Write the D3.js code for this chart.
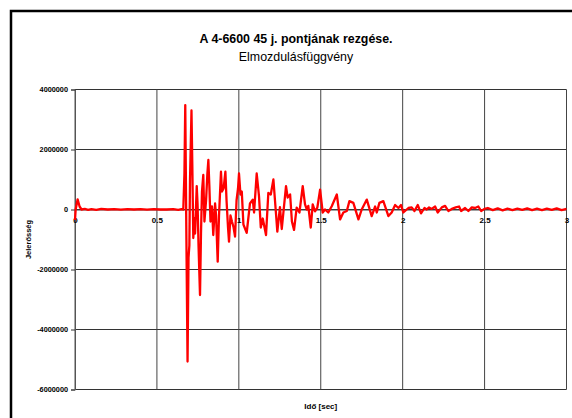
<!DOCTYPE html>
<html>
<head>
<meta charset="utf-8">
<script src="https://cdn.jsdelivr.net/npm/d3@7"></script>
<style>
body { margin: 0; background: #fff; }
svg { display: block; font-family: "Liberation Sans", Arial, sans-serif; }
</style>
</head>
<body>
<script>
const svgWidth = 572;
const svgHeight = 418;

// data
const times = [
	0, 0.004, 0.016, 0.028, 0.04, 0.06, 0.08, 0.1, 0.13, 0.16, 0.2, 0.24, 0.28, 0.32, 0.36, 0.4,
	0.44, 0.48, 0.52, 0.56, 0.6, 0.63, 0.65, 0.661, 0.668, 0.673, 0.68, 0.687, 0.693, 0.698, 0.702,
	0.706, 0.711, 0.716, 0.722, 0.728, 0.733, 0.743, 0.748, 0.754, 0.763, 0.769, 0.775, 0.783, 0.79,
	0.8, 0.808, 0.814, 0.82, 0.827, 0.836, 0.844, 0.855, 0.861, 0.871, 0.879, 0.891, 0.897, 0.907,
	0.918, 0.925, 0.934, 0.94, 0.949, 0.958, 0.968, 0.977, 0.986, 0.995, 1.001, 1.01, 1.018, 1.028,
	1.048, 1.068, 1.085, 1.093, 1.109, 1.123, 1.134, 1.146, 1.166, 1.18, 1.195, 1.211, 1.227, 1.235,
	1.251, 1.262, 1.288, 1.298, 1.313, 1.324, 1.337, 1.353, 1.37, 1.39, 1.404, 1.415, 1.424, 1.439,
	1.451, 1.465, 1.479, 1.496, 1.512, 1.526, 1.546, 1.567, 1.598, 1.618, 1.638, 1.659, 1.675, 1.699,
	1.73, 1.75, 1.781, 1.811, 1.832, 1.842, 1.858, 1.882, 1.913, 1.933, 1.954, 1.974, 1.99, 2.004,
	2.035, 2.055, 2.072, 2.092, 2.112, 2.133, 2.147, 2.161, 2.177, 2.198, 2.214, 2.239, 2.259, 2.279,
	2.3, 2.324, 2.344, 2.357, 2.381, 2.401, 2.422, 2.442, 2.462, 2.479, 2.499, 2.52, 2.55, 2.58,
	2.61, 2.64, 2.67, 2.7, 2.73, 2.76, 2.79, 2.82, 2.85, 2.88, 2.91, 2.94, 2.97, 3
];
const values = [
	-350000, 0, 340000, 100000, 0, 20000, -10000, 15000, -10000, 20000, 0, 15000, -5000, 15000, 0, 10000,
	-5000, 10000, 0, 0, 10000, -10000, 10000, 0, 1200000, 3480000, -1000000, -5070000, -1600000, -1200000, 1000000,
	2000000, 3300000, 1500000, -950000, -300000, -800000, 780000, 200000, -1200000, -2850000, -800000, 600000, 1150000, -400000,
	300000, 1200000, 1650000, 800000, -400000, 100000, -850000, 200000, -200000, -1740000, -200000, 1260000, 600000, 700000,
	1260000, 300000, -600000, -1070000, -200000, -400000, -600000, -900000, 300000, 700000, 1200000, 500000, 600000, -500000,
	-780000, 200000, 330000, -100000, 1200000, 450000, -600000, -300000, -850000, 550000, 500000, 1000000, -150000, -740000,
	80000, -650000, 780000, 400000, 500000, -400000, -680000, 60000, -100000, 780000, 170000, 0, 120000, -600000,
	170000, -60000, 60000, 660000, -100000, 0, -100000, 110000, 500000, -330000, -100000, -50000, 280000, 220000,
	-330000, 0, 330000, -220000, 100000, -100000, 220000, 280000, -220000, -100000, 150000, 50000, 150000, -100000,
	50000, 70000, -50000, 150000, -130000, 50000, 0, 70000, 20000, 100000, -100000, 70000, 120000, -50000,
	20000, 70000, 100000, -50000, 50000, -50000, 70000, 50000, 100000, -50000, 20000, 50000, -20000, 40000,
	-30000, 30000, -20000, 30000, -10000, 40000, -20000, 30000, -20000, 30000, -10000, 40000, -20000, 20000
];
const xTicks = [0, 0.5, 1, 1.5, 2, 2.5, 3];
const yTicks = [-6000000, -4000000, -2000000, 0, 2000000, 4000000];

const title = "A 4-6600 45 j. pontjának rezgése.";
const subtitle = "Elmozdulásfüggvény";
const xTitle = "Idő [sec]";
const yTitle = "Jelerősség";

const svg = d3
	.select("body")
	.append("svg")
	.attr("width", svgWidth)
	.attr("height", svgHeight);

// chart frame (cut off at right/bottom)
svg
	.append("rect")
	.attr("x", 11)
	.attr("y", 11)
	.attr("width", svgWidth + 20)
	.attr("height", svgHeight + 20)
	.attr("fill", "#fff")
	.attr("stroke", "#000")
	.attr("stroke-width", 2.5);

//scale
const xScale = d3.scaleLinear().domain([0, 3]).range([75, 566.5]);
const yScale = d3.scaleLinear().domain([-6000000, 4000000]).range([389.5, 89.5]);

//=====
//grid
//=====
svg
	.selectAll(".hgrid")
	.data(yTicks)
	.enter()
	.append("line")
	.attr("class", "hgrid")
	.attr("x1", xScale(0))
	.attr("x2", xScale(3))
	.attr("y1", (d) => yScale(d))
	.attr("y2", (d) => yScale(d))
	.attr("stroke", "#333")
	.attr("stroke-width", 1);

svg
	.selectAll(".vgrid")
	.data(xTicks)
	.enter()
	.append("line")
	.attr("class", "vgrid")
	.attr("x1", (d) => xScale(d))
	.attr("x2", (d) => xScale(d))
	.attr("y1", yScale(4000000))
	.attr("y2", yScale(-6000000))
	.attr("stroke", (d) => (d === 0 ? "#555" : "#444"))
	.attr("stroke-width", 1);

//y-axis
const yAxis = svg
	.append("g")
	.attr("transform", `translate(${xScale(0)}, 0)`)
	.call(
		d3
			.axisLeft(yScale)
			.tickValues(yTicks)
			.tickSize(4)
			.tickPadding(3)
			.tickFormat((d) => String(d))
	);
yAxis.select(".domain").attr("stroke", "#555");
yAxis.selectAll(".tick line").attr("stroke", "#333");
yAxis
	.selectAll(".tick text")
	.attr("font-family", "Liberation Sans, Arial, sans-serif")
	.attr("font-size", 7.3)
	.attr("font-weight", "bold")
	.attr("fill", "#000");

//x-axis on zero line
const xAxis = svg
	.append("g")
	.attr("transform", `translate(0, ${yScale(0)})`)
	.call(
		d3
			.axisBottom(xScale)
			.tickValues(xTicks)
			.tickSize(0)
			.tickPadding(8)
			.tickFormat((d) => String(d))
	);
xAxis.select(".domain").attr("stroke", "#444").attr("stroke-width", 1.2);
xAxis
	.selectAll(".tick text")
	.attr("font-family", "Liberation Sans, Arial, sans-serif")
	.attr("font-size", 8)
	.attr("font-weight", "bold")
	.attr("fill", "#000");

//signal line
const points = times.map((t, i) => ({ t: t, v: values[i] }));
const line = d3
	.line()
	.x((d) => xScale(d.t))
	.y((d) => yScale(d.v));

svg
	.append("path")
	.datum(points)
	.attr("d", line)
	.attr("stroke", "#ff0000")
	.attr("stroke-width", 2.3)
	.attr("stroke-linejoin", "round")
	.attr("fill", "none");

//titles
svg
	.append("text")
	.attr("x", 296)
	.attr("y", 43)
	.attr("text-anchor", "middle")
	.attr("font-size", 12.4)
	.attr("font-weight", "bold")
	.text(title);

svg
	.append("text")
	.attr("x", 296)
	.attr("y", 61)
	.attr("text-anchor", "middle")
	.attr("font-size", 12.4)
	.text(subtitle);

svg
	.append("text")
	.attr("x", (xScale(0) + xScale(3)) / 2)
	.attr("y", 409)
	.attr("text-anchor", "middle")
	.attr("font-size", 8)
	.attr("font-weight", "bold")
	.text(xTitle);

svg
	.append("text")
	.attr("transform", `translate(31, ${(yScale(4000000) + yScale(-6000000)) / 2}) rotate(-90)`)
	.attr("text-anchor", "middle")
	.attr("font-size", 7.5)
	.attr("font-weight", "bold")
	.text(yTitle);
</script>
</body>
</html>
